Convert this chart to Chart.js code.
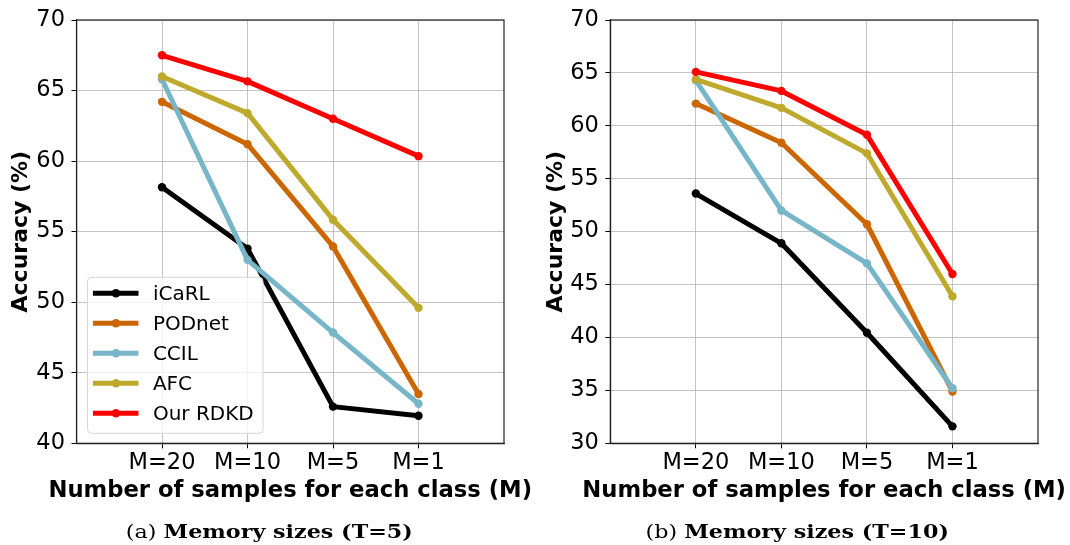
<!DOCTYPE html>
<html><head><meta charset="utf-8">
<script src="https://cdn.jsdelivr.net/npm/chart.js@4.4.0/dist/chart.umd.min.js"></script>
<style>
html,body{margin:0;padding:0;background:#fff;width:1070px;height:545px;overflow:hidden}
.wrap{position:absolute;top:0;width:535px;height:545px}
canvas{display:block}
.cap{position:absolute;top:520px;height:24px;line-height:24px;font-family:'DejaVu Serif',serif;font-size:18.5px;color:#000;white-space:nowrap;transform-origin:50% 50%}
.cap b{font-weight:bold}
</style></head><body>
<div class="wrap" style="left:0"><canvas id="c1" width="535" height="545"></canvas></div>
<div class="wrap" style="left:535px"><canvas id="c2" width="535" height="545"></canvas></div>
<div class="cap" id="capA" data-cx="269.5">(a) <b>Memory sizes (T=5)</b></div>
<div class="cap" id="capB" data-cx="797">(b) <b>Memory sizes (T=10)</b></div>
<script>
// ---- data ----
const categories = ['M=20', 'M=10', 'M=5', 'M=1'];
const seriesNames = ['iCaRL', 'PODnet', 'CCIL', 'AFC', 'Our RDKD'];
const t5_iCaRL  = [58.15, 53.8, 42.6, 41.95];
const t5_PODnet = [64.2, 61.2, 53.95, 43.5];
const t5_CCIL   = [65.8, 53.0, 47.85, 42.8];
const t5_AFC    = [66.0, 63.4, 55.85, 49.6];
const t5_RDKD   = [67.5, 65.65, 63.0, 60.35];
const t10_iCaRL  = [53.6, 48.9, 40.45, 31.6];
const t10_PODnet = [62.1, 58.4, 50.7, 34.9];
const t10_CCIL   = [64.3, 52.0, 47.0, 35.2];
const t10_AFC    = [64.4, 61.7, 57.4, 43.9];
const t10_RDKD   = [65.1, 63.3, 59.15, 46.0];
const yTicksT5  = [40, 45, 50, 55, 60, 65, 70];
const yTicksT10 = [30, 35, 40, 45, 50, 55, 60, 65, 70];
const xTitle = 'Number of samples for each class (M)';
const yTitle = 'Accuracy (%)';

// ---- style ----
const colors = ['#000000', '#cc6600', '#77b5c8', '#bfa92c', '#ff0000'];
const FONT = "'DejaVu Sans', sans-serif";

const framePlugin = {
  id: 'frame',
  afterDraw(chart) {
    const {ctx, chartArea: a} = chart;
    ctx.save();
    ctx.strokeStyle = '#222';
    ctx.lineWidth = 1.2;
    ctx.strokeRect(a.left, a.top, a.right - a.left, a.bottom - a.top);
    // x axis title (drawn without width compression)
    ctx.fillStyle = '#000';
    ctx.font = "bold 22.7px " + FONT;
    ctx.textAlign = 'center';
    ctx.textBaseline = 'alphabetic';
    ctx.fillText(xTitle, (a.left + a.right) / 2, 496.7);
    ctx.restore();
  }
};

const legendPlugin = {
  id: 'innerLegend',
  afterDatasetsDraw(chart, args, opts) {
    if (!opts.show) return;
    const {ctx, chartArea: a} = chart;
    const bx = a.left + 11, bw = 175.5, bh = 156;
    const by = a.bottom - 10 - bh;
    ctx.save();
    ctx.beginPath();
    if (ctx.roundRect) ctx.roundRect(bx, by, bw, bh, 4); else ctx.rect(bx, by, bw, bh);
    ctx.fillStyle = 'rgba(255,255,255,0.8)';
    ctx.fill();
    ctx.strokeStyle = '#d6d6d6';
    ctx.lineWidth = 1;
    ctx.stroke();
    chart.data.datasets.forEach((ds, i) => {
      const y = by + 16 + i * 30;
      ctx.strokeStyle = ds.borderColor;
      ctx.lineWidth = 5;
      ctx.lineCap = 'butt';
      ctx.beginPath();
      ctx.moveTo(bx + 5.4, y);
      ctx.lineTo(bx + 51, y);
      ctx.stroke();
      ctx.fillStyle = ds.borderColor;
      ctx.beginPath();
      ctx.arc(bx + 28.4, y, 4.2, 0, Math.PI * 2);
      ctx.fill();
      ctx.fillStyle = '#000';
      ctx.font = "20px " + FONT;
      ctx.textBaseline = 'middle';
      ctx.textAlign = 'left';
      ctx.fillText(ds.label, bx + 65.4, y + 1);
    });
    ctx.restore();
  }
};

function makeChart(id, series, yTicks, yWidth, padRight, showLegend) {
  const datasets = series.map((vals, i) => ({
    label: seriesNames[i],
    data: vals.map((v, k) => ({x: k, y: v})),
    borderColor: colors[i],
    backgroundColor: colors[i],
    pointBackgroundColor: colors[i],
    pointBorderWidth: 0,
    pointRadius: 4.2,
    borderWidth: 5,
    borderJoinStyle: 'round',
    tension: 0,
    order: series.length - i
  }));
  const gridColor = 'rgba(176,176,176,0.75)';
  return new Chart(document.getElementById(id), {
    type: 'line',
    data: {datasets},
    plugins: [framePlugin, legendPlugin],
    options: {
      responsive: false,
      animation: false,
      devicePixelRatio: 1,
      layout: {padding: {left: 0, right: padRight, top: 19, bottom: 0}},
      plugins: {legend: {display: false}, tooltip: {enabled: false}, innerLegend: {show: showLegend}},
      scales: {
        x: {
          type: 'linear', min: -1, max: 4,
          afterBuildTicks: s => { s.ticks = categories.map((c, i) => ({value: i})); },
          afterFit: s => { s.height = 545 - 443.3; },
          ticks: {callback: v => categories[v], font: {family: FONT, size: 22.5}, color: '#000', padding: 1, maxRotation: 0, autoSkip: false},
          grid: {color: gridColor, lineWidth: 1, tickLength: 5, tickColor: '#000', drawTicks: true},
          border: {display: true, color: '#222', width: 1.2},
          title: {display: false}
        },
        y: {
          type: 'linear', min: yTicks[0], max: yTicks[yTicks.length - 1],
          afterBuildTicks: s => { s.ticks = yTicks.map(v => ({value: v})); },
          afterFit: s => { s.width = yWidth; },
          ticks: {font: {family: FONT, size: 22.5}, color: '#000', padding: 6.5},
          grid: {color: gridColor, lineWidth: 1, tickLength: 5, tickColor: '#000', drawTicks: true},
          border: {display: true, color: '#222', width: 1.2},
          title: {display: true, text: yTitle, color: '#000', font: {family: FONT, size: 22, weight: 'bold'}, padding: {top: 8, bottom: 0}}
        }
      }
    }
  });
}

makeChart('c1', [t5_iCaRL, t5_PODnet, t5_CCIL, t5_AFC, t5_RDKD], yTicksT5, 76.5, 31, true);
makeChart('c2', [t10_iCaRL, t10_PODnet, t10_CCIL, t10_AFC, t10_RDKD], yTicksT10, 75.3, 32, false);

// caption sizing: stretch to the reference caption width
(function () {
  const a = document.getElementById('capA'), b = document.getElementById('capB');
  const k = 287 / a.getBoundingClientRect().width;
  [a, b].forEach(el => {
    const w = el.getBoundingClientRect().width;
    el.style.left = (parseFloat(el.dataset.cx) - w / 2) + 'px';
    el.style.transform = 'scaleX(' + k + ')';
  });
})();
</script>
</body></html>
